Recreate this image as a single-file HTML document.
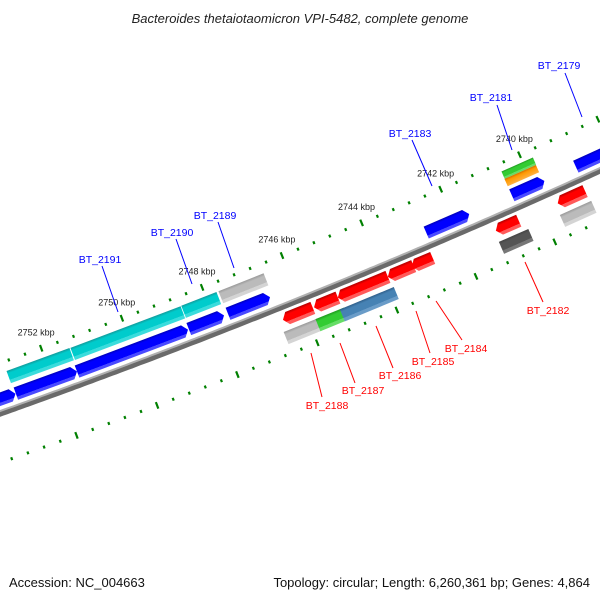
<!DOCTYPE html>
<html><head><meta charset="utf-8"><style>
body{margin:0;background:#fff;}
svg{display:block;font-family:"Liberation Sans","DejaVu Sans",sans-serif;}
</style></head><body>
<svg id="map" width="600" height="600" viewBox="0 0 600 600" xmlns="http://www.w3.org/2000/svg">
<defs>
<linearGradient id="gBlue" x1="0" y1="0" x2="0" y2="1"><stop offset="0" stop-color="#0000b8"/><stop offset="0.2" stop-color="#0000ff"/><stop offset="0.75" stop-color="#0000ff"/><stop offset="0.76" stop-color="#4a4aff"/><stop offset="1" stop-color="#4a4aff"/></linearGradient>
<linearGradient id="gCyan" x1="0" y1="0" x2="0" y2="1"><stop offset="0" stop-color="#129a9a"/><stop offset="0.22" stop-color="#00cccc"/><stop offset="0.72" stop-color="#00cccc"/><stop offset="0.73" stop-color="#3adcdc"/><stop offset="1" stop-color="#3adcdc"/></linearGradient>
<linearGradient id="gRed" x1="0" y1="0" x2="0" y2="1"><stop offset="0" stop-color="#b00000"/><stop offset="0.22" stop-color="#ff0000"/><stop offset="0.72" stop-color="#ff0000"/><stop offset="0.73" stop-color="#ff5a5a"/><stop offset="1" stop-color="#ff5a5a"/></linearGradient>
<linearGradient id="gGray" x1="0" y1="0" x2="0" y2="1"><stop offset="0" stop-color="#999"/><stop offset="0.22" stop-color="#bbb"/><stop offset="0.72" stop-color="#bbb"/><stop offset="0.73" stop-color="#d4d4d4"/><stop offset="1" stop-color="#d4d4d4"/></linearGradient>
<linearGradient id="gDark" x1="0" y1="0" x2="0" y2="1"><stop offset="0" stop-color="#444"/><stop offset="0.22" stop-color="#555"/><stop offset="0.72" stop-color="#555"/><stop offset="0.73" stop-color="#777"/><stop offset="1" stop-color="#777"/></linearGradient>
<linearGradient id="gGreen" x1="0" y1="0" x2="0" y2="1"><stop offset="0" stop-color="#1f9a1f"/><stop offset="0.22" stop-color="#33cc33"/><stop offset="0.72" stop-color="#33cc33"/><stop offset="0.73" stop-color="#66dd66"/><stop offset="1" stop-color="#66dd66"/></linearGradient>
<linearGradient id="gOrange" x1="0" y1="0" x2="0" y2="1"><stop offset="0" stop-color="#d07000"/><stop offset="0.3" stop-color="#ff9900"/><stop offset="1" stop-color="#ffb040"/></linearGradient>
<linearGradient id="gSteel" x1="0" y1="0" x2="0" y2="1"><stop offset="0" stop-color="#2f5f8a"/><stop offset="0.22" stop-color="#4682b4"/><stop offset="0.72" stop-color="#4682b4"/><stop offset="0.73" stop-color="#6a9cc8"/><stop offset="1" stop-color="#6a9cc8"/></linearGradient>
</defs>
<text x="300" y="23" text-anchor="middle" font-size="13" font-style="italic" fill="#222">Bacteroides thetaiotaomicron VPI-5482, complete genome</text>
<g id="ticks"></g>
<g id="backbone"></g>
<g id="genes"></g>
<g id="labels"></g>
<text x="9" y="587" font-size="13" fill="#111">Accession: NC_004663</text>
<text x="590" y="587" text-anchor="end" font-size="13" fill="#111">Topology: circular; Length: 6,260,361 bp; Genes: 4,864</text>
</svg>
<script>
const geneStart = [2753.86,2752.94,2751.43,2748.65,2747.67,2742.69,2740.52,2738.89, 2752.95,2751.37,2748.61,2747.68,2740.53,2740.53, 2746.54,2745.76,2745.16,2743.90,2743.30,2741.17,2739.60, 2746.63,2745.83,2745.22,2741.20,2739.65];
const geneEnd   = [2752.95,2751.43,2748.67,2747.77,2746.62,2741.60,2739.69,2737.80, 2751.39,2748.63,2747.73,2746.55,2739.73,2739.73, 2745.79,2745.16,2743.90,2743.25,2742.77,2740.59,2738.90, 2745.80,2745.12,2743.86,2740.45,2738.85];
const geneTrack = ['b','b','b','b','b','b','b','b', 'c','c','c','c','g1','g2', 'r','r','r','r','r','r','r', 'l','l','l','l','l'];
const geneColor = ['gBlue','gBlue','gBlue','gBlue','gBlue','gBlue','gBlue','gBlue', 'gCyan','gCyan','gCyan','gGray','gGreen','gOrange', 'gRed','gRed','gRed','gRed','gRed','gRed','gRed', 'gGray','gGreen','gSteel','gDark','gGray'];
const geneArrow = [1,1,1,1,1,1,1,1, 0,0,0,0,0,0, -1,-1,-1,-1,-1,-1,-1, 0,0,0,0,0];
const majorTicks = [2752,2750,2748,2746,2744,2742,2740];
const majorLabels = ['2752 kbp','2750 kbp','2748 kbp','2746 kbp','2744 kbp','2742 kbp','2740 kbp'];
const labelNames = ['BT_2179','BT_2181','BT_2183','BT_2189','BT_2190','BT_2191','BT_2182','BT_2184','BT_2185','BT_2186','BT_2187','BT_2188'];
const labelColors = ['#00f','#00f','#00f','#00f','#00f','#00f','#f00','#f00','#f00','#f00','#f00','#f00'];
const labelText = [[559,69],[491,101],[410,137],[215,219],[172,236],[100,263],[548,314],[466,352],[433,365],[400,379],[363,394],[327,409]];
const labelLine = [[565,73,582,117],[497,105,512,150],[412,140,432,186],[218,222,234,268],[176,239,192,284],[102,266,118,312],[525,262,543,302],[436,301,462,340],[416,311,430,353],[376,326,393,368],[340,343,355,383],[311,353,322,397]];

const NS='http://www.w3.org/2000/svg';
const PX=43, U0=62.4, L=647.4, DX=0.9268, DY=-0.3754, NX=0.3754, NY=0.9268, SAG=7;
const trackV={b:-13,c:-31,g1:-35,g2:-27,r:13,l:31};
const trackH={b:13,c:13,g1:8,g2:8,r:13,l:13};
function uOf(k){return U0+(2752-k)*PX;}
function pt(k,v){const u=uOf(k);const t=u/L;const s=4*SAG*t*(1-t);
  return [DX*u+NX*(v+s), 413+DY*u+NY*(v+s)];}
function ang(k){const u=uOf(k);const t=u/L;const ds=4*SAG*(1-2*t)/L;
  return Math.atan2(DY,DX)*180/Math.PI+Math.atan(ds)*180/Math.PI;}
function mk(tag,attrs,parent){const e=document.createElementNS(NS,tag);for(const a in attrs)e.setAttribute(a,attrs[a]);parent.appendChild(e);return e;}

const bb=document.getElementById('backbone');
let d1='',d2='';
for(let k=2754.5;k>=2736.5;k-=0.1){const p=pt(k,0.6),q=pt(k,-1.8);d1+=(d1?'L':'M')+p[0].toFixed(1)+','+p[1].toFixed(1);d2+=(d2?'L':'M')+q[0].toFixed(1)+','+q[1].toFixed(1);}
const bbDark=mk('path',{d:d1,stroke:'#6a6a6a','stroke-width':6,fill:'none'},bb);


const bbLight=mk('path',{d:d2,stroke:'#b0b0b0','stroke-width':2,fill:'none'},bb);



const tg=document.getElementById('ticks');
for(let i=0;i<=50;i++){const k=2755.6-i*0.4;const kr=Math.round(k*10)/10;const major=Math.abs(kr/2-Math.round(kr/2))<0.01;
  [-47,47].forEach(v=>{const p=pt(kr,v);const a=ang(kr);const h=major?7:3;
    const r=mk('rect',{x:-1,y:-h/2,width:2.2,height:h,fill:'#008000',transform:`translate(${p[0].toFixed(1)},${p[1].toFixed(1)}) rotate(${a.toFixed(2)})`},tg);
    
    });}
majorTicks.forEach((k,i)=>{const p=pt(k,-47);
  const t=mk('text',{x:(p[0]-5).toFixed(1),y:(p[1]-13).toFixed(1),'text-anchor':'middle','font-size':'9',fill:'#222'},tg);
  t.textContent=majorLabels[i];
  
  });

const gg=document.getElementById('genes');
geneStart.forEach((ks,i)=>{const ke=geneEnd[i];const km=(ks+ke)/2;const v=trackV[geneTrack[i]],h=trackH[geneTrack[i]];
  const p=pt(km,v);const a=ang(km);const len=(ks-ke)*PX;const x0=-len/2,x1=len/2,y0=-h/2,y1=h/2;const tip=Math.min(5,len/3);
  let pts;
  if(geneArrow[i]===1)pts=[[x0,y0],[x1-tip,y0],[x1,0],[x1-tip,y1],[x0,y1]];
  else if(geneArrow[i]===-1)pts=[[x0+tip,y0],[x1,y0],[x1,y1],[x0+tip,y1],[x0,0]];
  else pts=[[x0,y0],[x1,y0],[x1,y1],[x0,y1]];
  const poly=mk('polygon',{points:pts.map(q=>q[0].toFixed(1)+','+q[1].toFixed(1)).join(' '),fill:`url(#${geneColor[i]})`,transform:`translate(${p[0].toFixed(1)},${p[1].toFixed(1)}) rotate(${a.toFixed(2)})`},gg);
  
  });

const lg=document.getElementById('labels');
labelNames.forEach((n,i)=>{const ln=labelLine[i];
  const l=mk('line',{x1:ln[0],y1:ln[1],x2:ln[2],y2:ln[3],stroke:labelColors[i],'stroke-width':1},lg);
  
  
  const t=mk('text',{x:labelText[i][0],y:labelText[i][1],'text-anchor':'middle','font-size':'10.5',fill:labelColors[i]},lg);
  t.textContent=n;
  
  });
</script>
</body></html>
